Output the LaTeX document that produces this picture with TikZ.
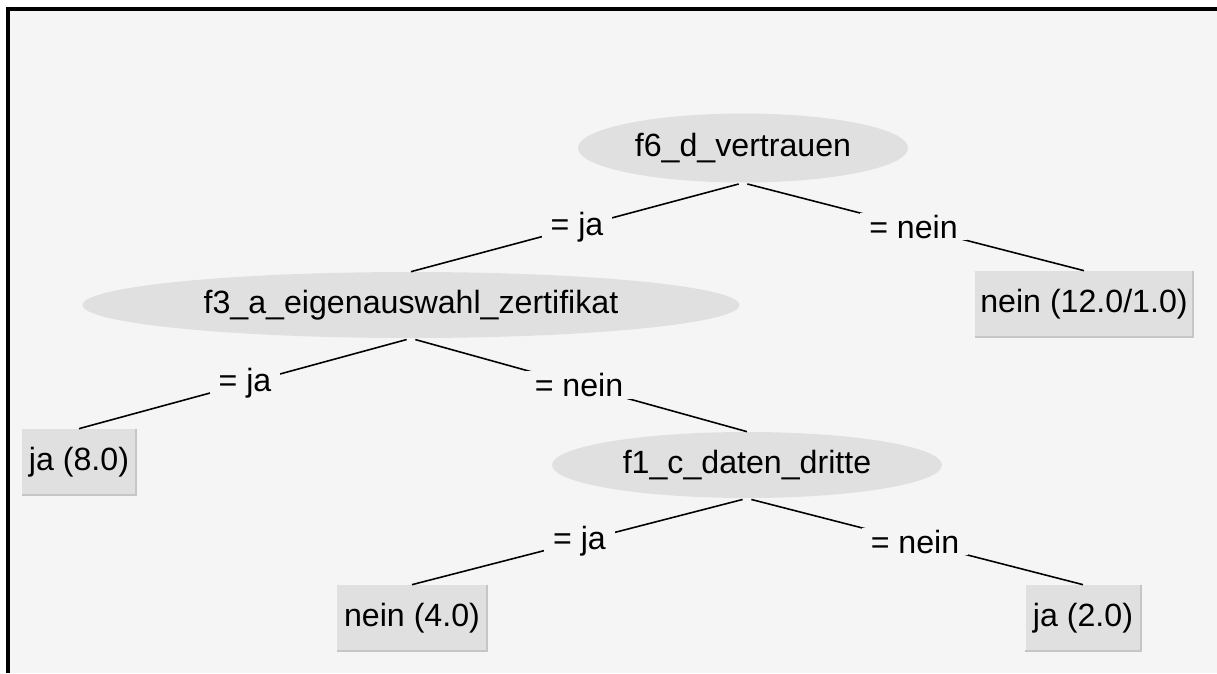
\documentclass[tikz,border=0pt]{standalone}
\usepackage{fontspec}
\setmainfont{Liberation Sans}
\usepackage{xcolor}
\usepackage{tikz}
\usetikzlibrary{positioning, shapes.geometric}

\definecolor{panel}{HTML}{F5F5F5}
\definecolor{nodegray}{HTML}{E0E0E0}
\definecolor{rimgray}{HTML}{C6C6C6}

\begin{document}
\begin{tikzpicture}[x=0.02cm, y=-0.02cm,
    font=\fontsize{18.3}{22}\selectfont,
    test/.style={ellipse, fill=nodegray, inner sep=0pt, minimum height=1.32cm},
    leaf/.style={rectangle, fill=nodegray, inner sep=0pt, minimum height=1.32cm},
    branch/.style={line width=0.9pt, shorten <=0.09cm},
    cond/.style={fill=panel, inner xsep=5pt, inner ysep=1pt}]
    \useasboundingbox (0,0) rectangle (1217,673);

    % panel, framed on top and left only
    \fill[panel] (8,9) rectangle (1217,673);
    \draw[line width=2pt] (8,673) -- (8,9) -- (1217,9);

    % decision nodes
    \node[test, minimum width=6.6cm, minimum height=1.38cm] (vertrauen) at (743,148) {f6\_d\_vertrauen};
    \node[test, minimum width=13.14cm] (zertifikat) at (411,305) {f3\_a\_eigenauswahl\_zertifikat};
    \node[test, minimum width=7.8cm] (dritte) at (747,465) {f1\_c\_daten\_dritte};

    % leaves
    \node[leaf, minimum width=4.36cm] (leafA) at (1084,304) {nein (12.0/1.0)};
    \node[leaf, minimum width=2.28cm] (leafB) at (79,462) {ja (8.0)};
    \node[leaf, minimum width=3.0cm] (leafC) at (412,618) {nein (4.0)};
    \node[leaf, minimum width=2.3cm] (leafD) at (1083,618) {ja (2.0)};
    \foreach \n in {leafA, leafB, leafC, leafD}
        \draw[rimgray, line width=1.2pt] (\n.north east) -- (\n.south east) -- (\n.south west);

    % branches
    \draw[branch] (vertrauen.south) -- node[cond] {= ja} (zertifikat.north);
    \draw[branch] (vertrauen.south) -- node[cond] {= nein} (leafA.north);
    \draw[branch] (zertifikat.south) -- node[cond] {= ja} (leafB.north);
    \draw[branch] (zertifikat.south) -- node[cond] {= nein} (dritte.north);
    \draw[branch] (dritte.south) -- node[cond] {= ja} (leafC.north);
    \draw[branch] (dritte.south) -- node[cond] {= nein} (leafD.north);
\end{tikzpicture}
\end{document}
